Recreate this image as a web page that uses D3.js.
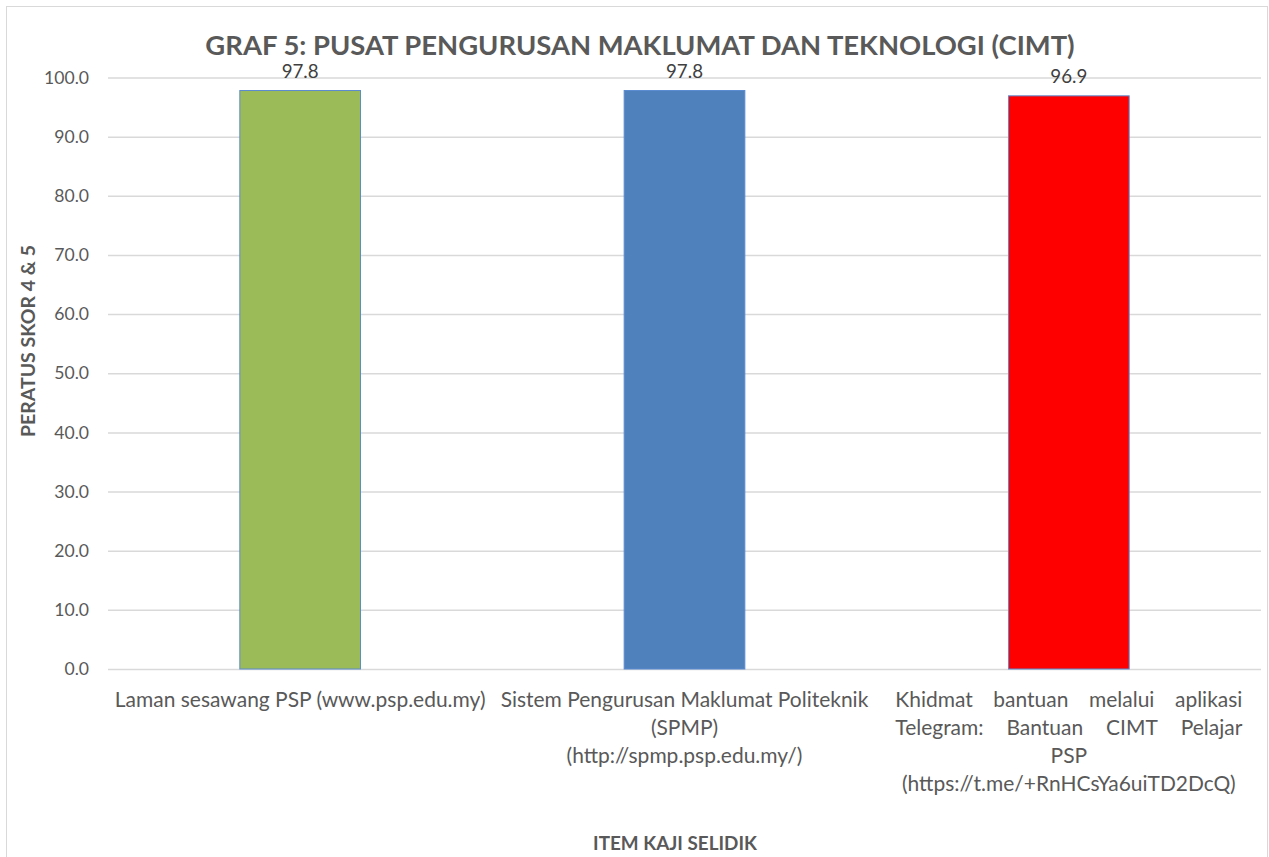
<!DOCTYPE html>
<html><head><meta charset="utf-8">
<script src="https://cdn.jsdelivr.net/npm/d3@7"></script>
<style>html,body{margin:0;padding:0;background:#fff;overflow:hidden}</style>
</head><body>
<svg id="chart" width="1269" height="857"></svg>
<script>
const categories = ["Laman sesawang PSP (www.psp.edu.my)",
  "Sistem Pengurusan Maklumat Politeknik (SPMP) (http://spmp.psp.edu.my/)",
  "Khidmat bantuan melalui aplikasi Telegram: Bantuan CIMT Pelajar PSP (https://t.me/+RnHCsYa6uiTD2DcQ)"];
const categoryLines = [
  ["Laman sesawang PSP (www.psp.edu.my)"],
  ["Sistem Pengurusan Maklumat Politeknik", "(SPMP)", "(http://spmp.psp.edu.my/)"],
  ["Khidmat bantuan melalui aplikasi", "Telegram: Bantuan CIMT Pelajar", "PSP", "(https://t.me/+RnHCsYa6uiTD2DcQ)"]
];
const justifiedLines = [[], [], [0, 1]];
const values = [97.8, 97.8, 96.9];
const barColors = ["#9BBB59", "#4F81BD", "#FF0000"];
const yTicks = [0, 10, 20, 30, 40, 50, 60, 70, 80, 90, 100];
const title = "GRAF 5: PUSAT PENGURUSAN MAKLUMAT DAN TEKNOLOGI (CIMT)";
const yTitle = "PERATUS SKOR 4 & 5";
const xTitle = "ITEM KAJI SELIDIK";

const FONT = "Lato, 'Open Sans', sans-serif";
const TXT = "#595959";
const svg = d3.select("#chart");

// size that makes a sample string reach a target width
function sizeFor(str, target, bold) {
  const t = svg.append("text").attr("font-family", FONT).attr("font-size", 100)
    .attr("font-weight", bold ? "bold" : "normal").text(str);
  const w = t.node().getComputedTextLength();
  t.remove();
  return 100 * target / w;
}

// chart border
svg.append("rect").attr("x", 6.5).attr("y", 6.5).attr("width", 1261).attr("height", 870)
  .attr("fill", "#fff").attr("stroke", "#d9d9d9").attr("stroke-width", 1);

const m = {left: 108, right: 1261, top: 77.5, bottom: 669};
const x = d3.scaleBand().domain(categories).range([m.left, m.right]).paddingInner(0.686).paddingOuter(0.343);
const y = d3.scaleLinear().domain([0, 100]).range([m.bottom, m.top]);

// gridlines + tick labels
const tickSize = sizeFor("100.0", 45, false);
const yAxis = d3.axisLeft(y).tickValues(yTicks).tickFormat(d3.format(".1f")).tickSize(-(m.right - m.left)).tickPadding(19);
const ga = svg.append("g").attr("transform", `translate(${m.left},0)`).call(yAxis);
ga.select(".domain").remove();
ga.selectAll(".tick line").attr("stroke", "#d9d9d9").attr("stroke-width", 1.5);
ga.selectAll(".tick text").attr("fill", TXT).attr("font-family", FONT).attr("font-size", tickSize);

// bars
const xc = d => x(d) + x.bandwidth() / 2;
svg.append("g").selectAll("rect").data(categories).join("rect")
  .attr("x", d => x(d)).attr("width", x.bandwidth())
  .attr("y", (d, i) => y(values[i])).attr("height", (d, i) => y(0) - y(values[i]))
  .attr("fill", (d, i) => barColors[i]).attr("stroke", "#5B8BD0").attr("stroke-width", 1);

// data labels
const dlSize = sizeFor("97.8", 37, false);
svg.append("g").selectAll("text").data(categories).join("text")
  .attr("x", xc).attr("y", (d, i) => y(values[i]) - 20)
  .attr("text-anchor", "middle").attr("dominant-baseline", "central")
  .attr("fill", "#404040").attr("font-family", FONT).attr("font-size", dlSize)
  .text((d, i) => d3.format(".1f")(values[i]));

// category labels
const lineH = 28, firstY = 698;
const labelSize = sizeFor(categoryLines[0][0], 371, false);
const justW = 347;
categories.forEach((c, i) => {
  const g = svg.append("g");
  categoryLines[i].forEach((ln, j) => {
    const yy = firstY + j * lineH;
    if (justifiedLines[i].includes(j)) {
      const words = ln.split(" ");
      const temp = words.map(w => g.append("text").attr("font-family", FONT).attr("font-size", labelSize)
        .attr("fill", TXT).attr("dominant-baseline", "central").attr("y", yy).text(w));
      const ws = temp.map(t => t.node().getComputedTextLength());
      const gap = (justW - d3.sum(ws)) / (words.length - 1);
      let cx = xc(c) - justW / 2;
      temp.forEach((t, k) => { t.attr("x", cx); cx += ws[k] + gap; });
    } else {
      g.append("text").attr("x", xc(c)).attr("y", yy).attr("text-anchor", "middle")
        .attr("dominant-baseline", "central").attr("font-family", FONT).attr("font-size", labelSize)
        .attr("fill", TXT).text(ln);
    }
  });
});

// title
svg.append("text").attr("x", 640).attr("y", 44).attr("text-anchor", "middle")
  .attr("dominant-baseline", "central").attr("font-family", FONT).attr("font-weight", "bold")
  .attr("font-size", sizeFor(title, 870, true)).attr("fill", TXT).text(title);

// axis titles
svg.append("text").attr("transform", "translate(27,341) rotate(-90)").attr("text-anchor", "middle")
  .attr("dominant-baseline", "central").attr("font-family", FONT).attr("font-weight", "bold")
  .attr("font-size", sizeFor(yTitle, 192, true)).attr("fill", TXT).text(yTitle);
svg.append("text").attr("x", 675).attr("y", 842).attr("text-anchor", "middle")
  .attr("dominant-baseline", "central").attr("font-family", FONT).attr("font-weight", "bold")
  .attr("font-size", sizeFor(xTitle, 164, true)).attr("fill", TXT).text(xTitle);
</script>
</body></html>
